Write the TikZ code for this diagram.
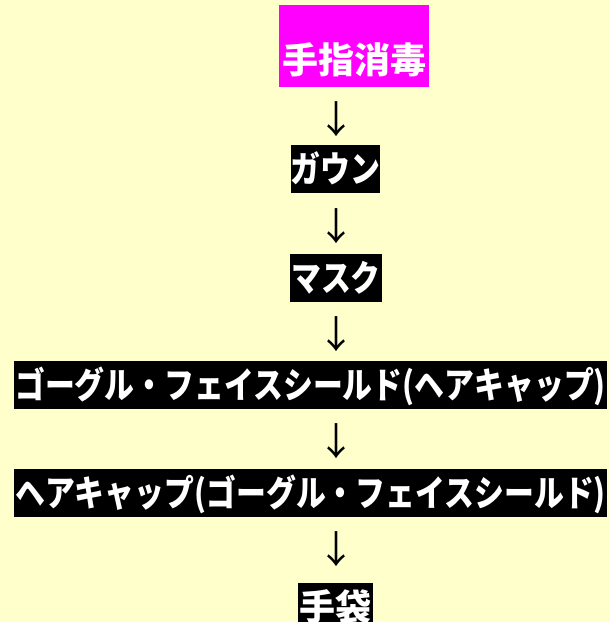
\documentclass[tikz,border=0pt]{standalone}
\usepackage{fontspec}
\newfontfamily\jp{Noto Sans CJK JP}
\newfontfamily\jpk{Noto Sans CJK JP}[FakeStretch=0.83]
\definecolor{bg}{HTML}{FFFFCC}
\definecolor{mag}{HTML}{FF00FF}
\begin{document}
\begin{tikzpicture}[x=1pt,y=-1pt,
  base/.style={inner sep=0pt,text height=31.7pt,text depth=4.3pt},
  kbox/.style={base,fill=black,text=white,minimum height=48pt,
    font=\jpk\bfseries\fontsize{36}{36}\selectfont},
  kanjibox/.style={base,fill=black,text=white,minimum height=48pt,
    font=\jp\bfseries\fontsize{36}{36}\selectfont},
  magbox/.style={fill=mag,inner sep=0pt,minimum width=150pt,minimum height=82pt},
  magtext/.style={base,text=white,font=\jp\bfseries\fontsize{36}{36}\selectfont},
  arr/.style={inner sep=0pt,text height=33.4pt,text depth=4.6pt,text=black,font=\jp\fontsize{38}{38}\selectfont}]
\fill[bg] (0,0) rectangle (610,622);
\useasboundingbox (0,0) rectangle (610,622);
\node[magbox] (m) at (354,46) {};
\node[magtext] (mt) at (354,60) {手指消毒};
\node[arr] (a1) at (336,119.5) {↓};
\node[kbox,minimum width=89pt] (g) at (335.5,168.5) {ガウン};
\node[arr] (a2) at (336,226.5) {↓};
\node[kbox,minimum width=92pt] (k) at (336,278) {マスク};
\node[arr] (a3) at (336,334) {↓};
\node[kbox,minimum width=593pt] (b1) at (310.5,384.5) {ゴーグル・フェイスシールド(ヘアキャップ)};
\node[arr] (a4) at (336,441.5) {↓};
\node[kbox,minimum width=593pt] (b2) at (310.5,493) {ヘアキャップ(ゴーグル・フェイスシールド)};
\node[arr] (a5) at (336,549.5) {↓};
\node[kanjibox,minimum width=75pt] (t) at (335.5,607) {手袋};
\end{tikzpicture}
\end{document}
